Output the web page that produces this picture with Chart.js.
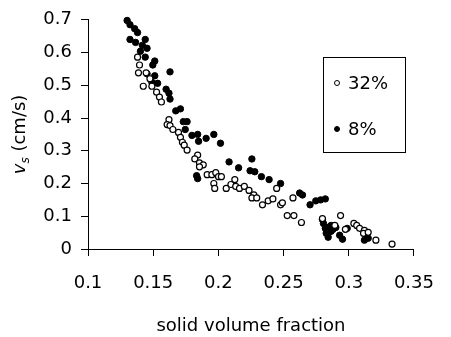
<!DOCTYPE html>
<html><head><meta charset="utf-8">
<script src="https://cdn.jsdelivr.net/npm/chart.js@4"></script>
<style>html,body{margin:0;padding:0;background:#fff}#w{width:451px;height:337px}</style>
</head><body><div id="w"><canvas id="c" width="451" height="337"></canvas></div>
<script>
const seriesLabels = ['32%', '8%'];
const xTicks = [0.1, 0.15, 0.2, 0.25, 0.3, 0.35];
const yTicks = [0, 0.1, 0.2, 0.3, 0.4, 0.5, 0.6, 0.7];
const phi32 = [0.1380,0.1395,0.1387,0.1446,0.1475,0.1424,0.1490,0.1526,0.1548,0.1563,0.1621,0.1607,0.1629,0.1651,0.1694,0.1709,0.1724,0.1738,0.1760,0.1841,0.1819,0.1855,0.1884,0.1855,0.1914,0.1950,0.1980,0.2001,0.2023,0.1965,0.1972,0.2060,0.2096,0.2126,0.2133,0.2162,0.2199,0.2235,0.2272,0.2257,0.2294,0.2338,0.2382,0.2418,0.2447,0.2477,0.2491,0.2572,0.2528,0.2579,0.2637,0.2798,0.2937,0.2893,0.2974,0.3039,0.3061,0.3083,0.3120,0.3113,0.3149,0.3208,0.3332];
const vs32 = [0.586,0.562,0.538,0.538,0.520,0.497,0.497,0.479,0.464,0.449,0.395,0.380,0.377,0.365,0.356,0.341,0.326,0.317,0.302,0.287,0.275,0.263,0.257,0.251,0.227,0.227,0.233,0.221,0.221,0.200,0.185,0.185,0.197,0.212,0.191,0.185,0.191,0.179,0.165,0.156,0.156,0.135,0.147,0.153,0.185,0.135,0.141,0.156,0.102,0.102,0.081,0.093,0.102,0.072,0.060,0.078,0.072,0.063,0.057,0.048,0.051,0.027,0.015];
const phi8 = [0.1300,0.1322,0.1358,0.1380,0.1322,0.1365,0.1439,0.1417,0.1453,0.1402,0.1439,0.1512,0.1497,0.1629,0.1453,0.1512,0.1490,0.1534,0.1599,0.1621,0.1629,0.1673,0.1709,0.1731,0.1760,0.1746,0.1797,0.1841,0.1906,0.1848,0.1965,0.2016,0.2082,0.1833,0.1841,0.2155,0.2257,0.2243,0.2279,0.2330,0.2389,0.2477,0.2623,0.2645,0.2703,0.2747,0.2784,0.2820,0.2798,0.2806,0.2820,0.2842,0.2827,0.2842,0.2864,0.2879,0.2864,0.2901,0.2930,0.2952,0.2988,0.3135,0.3149,0.3120];
const vs8 = [0.698,0.685,0.673,0.661,0.640,0.631,0.640,0.622,0.613,0.604,0.586,0.574,0.562,0.541,0.535,0.529,0.509,0.506,0.488,0.476,0.458,0.422,0.428,0.389,0.389,0.365,0.347,0.350,0.338,0.329,0.350,0.323,0.266,0.224,0.215,0.248,0.275,0.239,0.236,0.221,0.212,0.200,0.171,0.165,0.135,0.147,0.150,0.153,0.090,0.078,0.063,0.066,0.048,0.036,0.072,0.060,0.054,0.066,0.042,0.030,0.063,0.042,0.033,0.027];

const pts = (xs, ys) => xs.map((x, i) => ({x: x, y: ys[i]}));
const FONT = '"DejaVu Sans", sans-serif';

const extras = {
  id: 'extras',
  afterDraw(chart) {
    const ctx = chart.ctx;
    const ca = chart.chartArea;
    ctx.save();
    ctx.fillStyle = '#000';
    ctx.translate(20, (ca.top + ca.bottom) / 2);
    ctx.rotate(-Math.PI / 2);
    ctx.textBaseline = 'middle';
    const f1 = 'italic 18px ' + FONT, f2 = 'italic 12px ' + FONT, f3 = '18px ' + FONT;
    ctx.font = f1; const w1 = ctx.measureText('v').width;
    ctx.font = f2; const w2 = ctx.measureText('s').width;
    ctx.font = f3; const w3 = ctx.measureText(' (cm/s)').width;
    let x0 = -(w1 + w2 + w3) / 2;
    ctx.textAlign = 'left';
    ctx.font = f1; ctx.fillText('v', x0, 0);
    ctx.font = f2; ctx.fillText('s', x0 + w1, 6);
    ctx.font = f3; ctx.fillText(' (cm/s)', x0 + w1 + w2, 0);
    ctx.restore();
    ctx.save();
    ctx.strokeStyle = '#000';
    ctx.lineWidth = 1;
    ctx.strokeRect(323.5, 57.5, 82, 95);
    ctx.font = '18px ' + FONT;
    ctx.textBaseline = 'middle';
    ctx.textAlign = 'left';
    const rows = [83, 129];
    chart.data.datasets.forEach((ds, i) => {
      const y = rows[i];
      ctx.beginPath();
      ctx.arc(337, y, 2.5, 0, Math.PI * 2);
      ctx.fillStyle = ds.backgroundColor;
      ctx.fill();
      ctx.strokeStyle = '#000';
      ctx.stroke();
      ctx.fillStyle = '#000';
      ctx.fillText(ds.label, 348, y + 1);
    });
    ctx.restore();
  }
};

new Chart(document.getElementById('c'), {
  type: 'scatter',
  data: {
    datasets: [
      {label: seriesLabels[0], data: pts(phi32, vs32), backgroundColor: '#ffffff', borderColor: '#000', borderWidth: 1.2, pointRadius: 3, clip: false},
      {label: seriesLabels[1], data: pts(phi8, vs8), backgroundColor: '#000000', borderColor: '#000', borderWidth: 1, pointRadius: 3.2, clip: false}
    ]
  },
  options: {
    responsive: false,
    animation: false,
    events: [],
    layout: {padding: {top: 15, right: 21, left: 0, bottom: 0}},
    plugins: {legend: {display: false}, tooltip: {enabled: false}},
    scales: {
      x: {
        type: 'linear', min: 0.1, max: 0.35,
        afterBuildTicks: s => { s.ticks = xTicks.map(v => ({value: v})); },
        afterFit: s => { s.height = 88; },
        border: {color: '#000', width: 1},
        grid: {drawOnChartArea: false, color: '#000', tickLength: 7},
        ticks: {color: '#000', font: {family: FONT, size: 18}, padding: 17, maxRotation: 0, callback: v => String(v)},
        title: {display: true, text: 'solid volume fraction', color: '#000', font: {family: FONT, size: 18}, padding: {top: 11, bottom: 0}}
      },
      y: {
        type: 'linear', min: 0, max: 0.7,
        afterBuildTicks: s => { s.ticks = yTicks.map(v => ({value: v})); },
        afterFit: s => { s.width = 88; },
        border: {color: '#000', width: 1},
        grid: {drawOnChartArea: false, color: '#000', tickLength: 7},
        ticks: {color: '#000', font: {family: FONT, size: 18}, padding: 9, callback: v => String(v)}
      }
    }
  },
  plugins: [extras]
});
</script></body></html>
